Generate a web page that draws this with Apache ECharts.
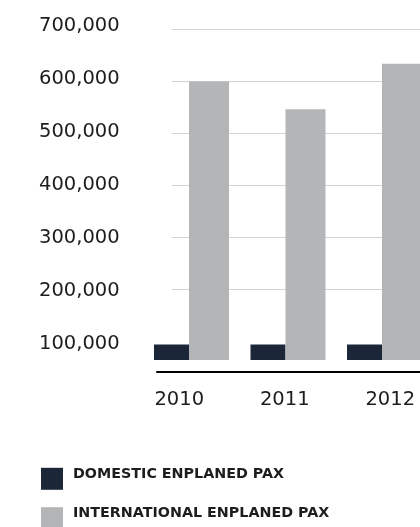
<!DOCTYPE html>
<html>
<head>
<meta charset="utf-8">
<script src="https://cdn.jsdelivr.net/npm/echarts@6/dist/echarts.min.js"></script>
<style>
  html, body { margin: 0; padding: 0; background: #ffffff; }
  #chart { width: 420px; height: 527px; }
</style>
</head>
<body>
<div id="chart"></div>
<script>
// Enplaned passengers by year
const years = ['2010', '2011', '2012'];
const domesticPax = [95000, 95000, 95000];
const internationalPax = [600000, 547000, 634000];

// Value axis labels and horizontal guide lines
const yLabelTicks = [100000, 200000, 300000, 400000, 500000, 600000, 700000];
const yGridTicks = [200000, 300000, 400000, 500000, 600000, 700000];
const barAxisMin = 65000;

const seriesNames = ['DOMESTIC ENPLANED PAX', 'INTERNATIONAL ENPLANED PAX'];
const colors = ['#1c2639', '#b4b5b7'];

const textColor = '#1d1d1b';
const numFont = 'DejaVu Sans';

const fmt = v => Number(v).toLocaleString('en-US');

// One legend block per series, stacked vertically
function legendBlock(name, top) {
  return {
    orient: 'vertical',
    left: 41,
    top: top,
    padding: 0,
    icon: 'rect',
    itemWidth: 22,
    itemHeight: 22,
    selectedMode: false,
    data: [name],
    formatter: '{t|{name}}',
    textStyle: {
      rich: {
        t: {
          color: textColor,
          fontFamily: 'DejaVu Sans',
          fontWeight: 'bold',
          fontSize: 14.3,
          padding: [0, 0, 9, 5]
        }
      }
    }
  };
}

const chart = echarts.init(document.getElementById('chart'), null, { renderer: 'canvas' });

chart.setOption({
  animation: false,
  backgroundColor: '#ffffff',
  grid: [
    // bars
    { left: 143.25, right: -12.75, top: 29.5, bottom: 167, containLabel: false, outerBoundsMode: 'none' },
    // horizontal guide lines
    { left: 172, right: 0, top: 29.5, bottom: 237.3, containLabel: false, outerBoundsMode: 'none' },
    // value labels + category axis line and labels
    { left: 157, right: -53.5, top: 25.5, bottom: 183.5, containLabel: false, outerBoundsMode: 'none' }
  ],
  xAxis: [
    {
      gridIndex: 0, type: 'category', data: years,
      axisLine: { show: false }, axisTick: { show: false }, axisLabel: { show: false }
    },
    {
      gridIndex: 1, type: 'category', data: years, show: false
    },
    {
      gridIndex: 2, type: 'category', data: years,
      offset: 28.2,
      axisLine: { show: true, lineStyle: { color: '#000000', width: 2 } },
      axisTick: { show: false },
      axisLabel: {
        interval: 0,
        margin: 18,
        padding: [0, 61, 0, 0],
        color: textColor,
        fontFamily: numFont,
        fontSize: 19.5
      }
    }
  ],
  yAxis: [
    {
      gridIndex: 0, type: 'value',
      min: barAxisMin, max: yLabelTicks[yLabelTicks.length - 1],
      axisLine: { show: false }, axisTick: { show: false },
      axisLabel: { show: false }, splitLine: { show: false }
    },
    {
      gridIndex: 1, type: 'value',
      min: yGridTicks[0], max: yGridTicks[yGridTicks.length - 1],
      interval: yGridTicks[1] - yGridTicks[0],
      axisLine: { show: false }, axisTick: { show: false },
      axisLabel: { show: false },
      splitLine: { show: true, lineStyle: { color: '#d2d2d2', width: 1 } }
    },
    {
      gridIndex: 2, type: 'value',
      min: yLabelTicks[0], max: yLabelTicks[yLabelTicks.length - 1],
      interval: yLabelTicks[1] - yLabelTicks[0],
      axisLine: { show: false }, axisTick: { show: false },
      splitLine: { show: false },
      axisLabel: {
        align: 'left',
        margin: 118,
        color: textColor,
        fontFamily: numFont,
        fontSize: 19.5,
        formatter: fmt
      }
    }
  ],
  legend: [
    legendBlock(seriesNames[0], 467.3),
    legendBlock(seriesNames[1], 506.7)
  ],
  series: [
    {
      name: seriesNames[0],
      type: 'bar',
      xAxisIndex: 0, yAxisIndex: 0,
      data: domesticPax,
      barWidth: 35,
      barGap: '0%',
      itemStyle: { color: colors[0] }
    },
    {
      name: seriesNames[1],
      type: 'bar',
      xAxisIndex: 0, yAxisIndex: 0,
      data: internationalPax,
      barWidth: 40,
      barGap: '0%',
      itemStyle: { color: colors[1] }
    }
  ]
});
</script>
</body>
</html>
